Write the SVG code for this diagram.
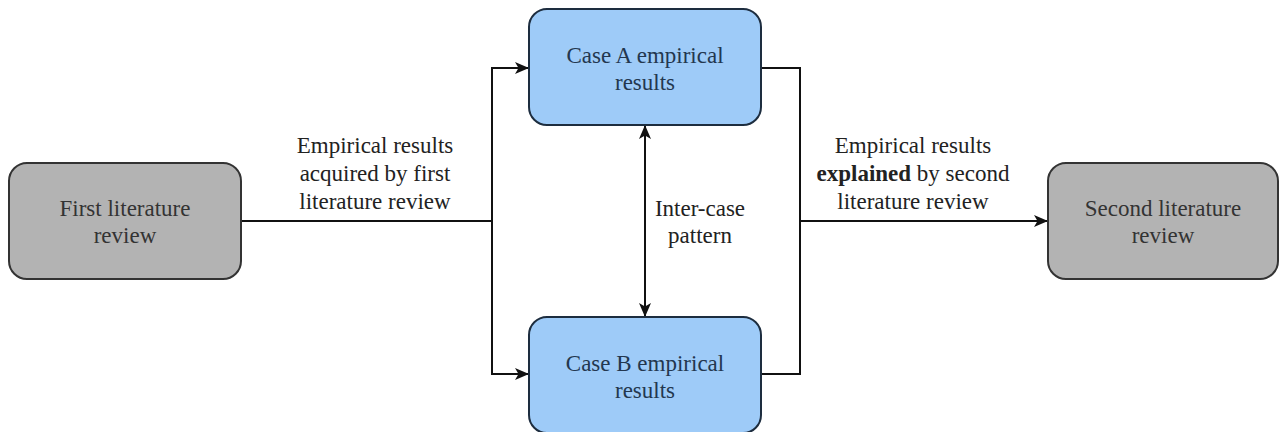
<svg xmlns="http://www.w3.org/2000/svg" width="1279" height="432" viewBox="0 0 1279 432">
  <style>
    .grey { fill: #b3b3b3; stroke: #333333; stroke-width: 2; }
    .blue { fill: #9ecbf8; stroke: #1d2d3f; stroke-width: 2; }
    text { font-family: 'Liberation Serif', 'Times New Roman', serif; font-size: 23px; text-anchor: middle; }
    .tg { fill: #333333; }
    .tb { fill: #23374f; }
    .lbl { fill: #222222; }
    .edge { fill: none; stroke: #111111; stroke-width: 2; }
  </style>
  <defs>
    <!-- filled classic arrowhead with notched back -->
    <marker id="arrow" viewBox="0 0 14 12" refX="13" refY="6" markerWidth="14" markerHeight="12" markerUnits="userSpaceOnUse" orient="auto-start-reverse">
      <path d="M0,0 L14,6 L0,12 L3.5,6 Z" fill="#111111"/>
    </marker>
  </defs>

  <rect width="1279" height="432" fill="#ffffff"/>

  <g id="connectors">
    <path class="edge" d="M241,221 H492 V68 H528" marker-end="url(#arrow)"/>
    <path class="edge" d="M241,221 H492 V374 H528" marker-end="url(#arrow)"/>
    <path class="edge" d="M761,68 H800 V221 H1047" marker-end="url(#arrow)"/>
    <path class="edge" d="M761,374 H800 V221"/>
    <path class="edge" d="M645,126 V316" marker-start="url(#arrow)" marker-end="url(#arrow)"/>
    <g class="lbl">
      <text x="375" y="153">Empirical results</text>
      <text x="375" y="181">acquired by first</text>
      <text x="375" y="209">literature review</text>
      <text x="913" y="153">Empirical results</text>
      <text x="913" y="181"><tspan font-weight="bold">explained</tspan> by second</text>
      <text x="913" y="209">literature review</text>
      <text x="700" y="216">Inter-case</text>
      <text x="700" y="243">pattern</text>
    </g>
  </g>

  <g id="first-review">
    <rect class="grey" x="9" y="163" width="232" height="116" rx="18"/>
    <text class="tg" x="125" y="216">First literature</text>
    <text class="tg" x="125" y="243">review</text>
  </g>

  <g id="case-a">
    <rect class="blue" x="529" y="9" width="232" height="116" rx="18"/>
    <text class="tb" x="645" y="63">Case A empirical</text>
    <text class="tb" x="645" y="90">results</text>
  </g>

  <g id="case-b">
    <rect class="blue" x="529" y="317" width="232" height="116" rx="18"/>
    <text class="tb" x="645" y="371">Case B empirical</text>
    <text class="tb" x="645" y="398">results</text>
  </g>

  <g id="second-review">
    <rect class="grey" x="1048" y="163" width="230" height="116" rx="18"/>
    <text class="tg" x="1163" y="216">Second literature</text>
    <text class="tg" x="1163" y="243">review</text>
  </g>
</svg>
